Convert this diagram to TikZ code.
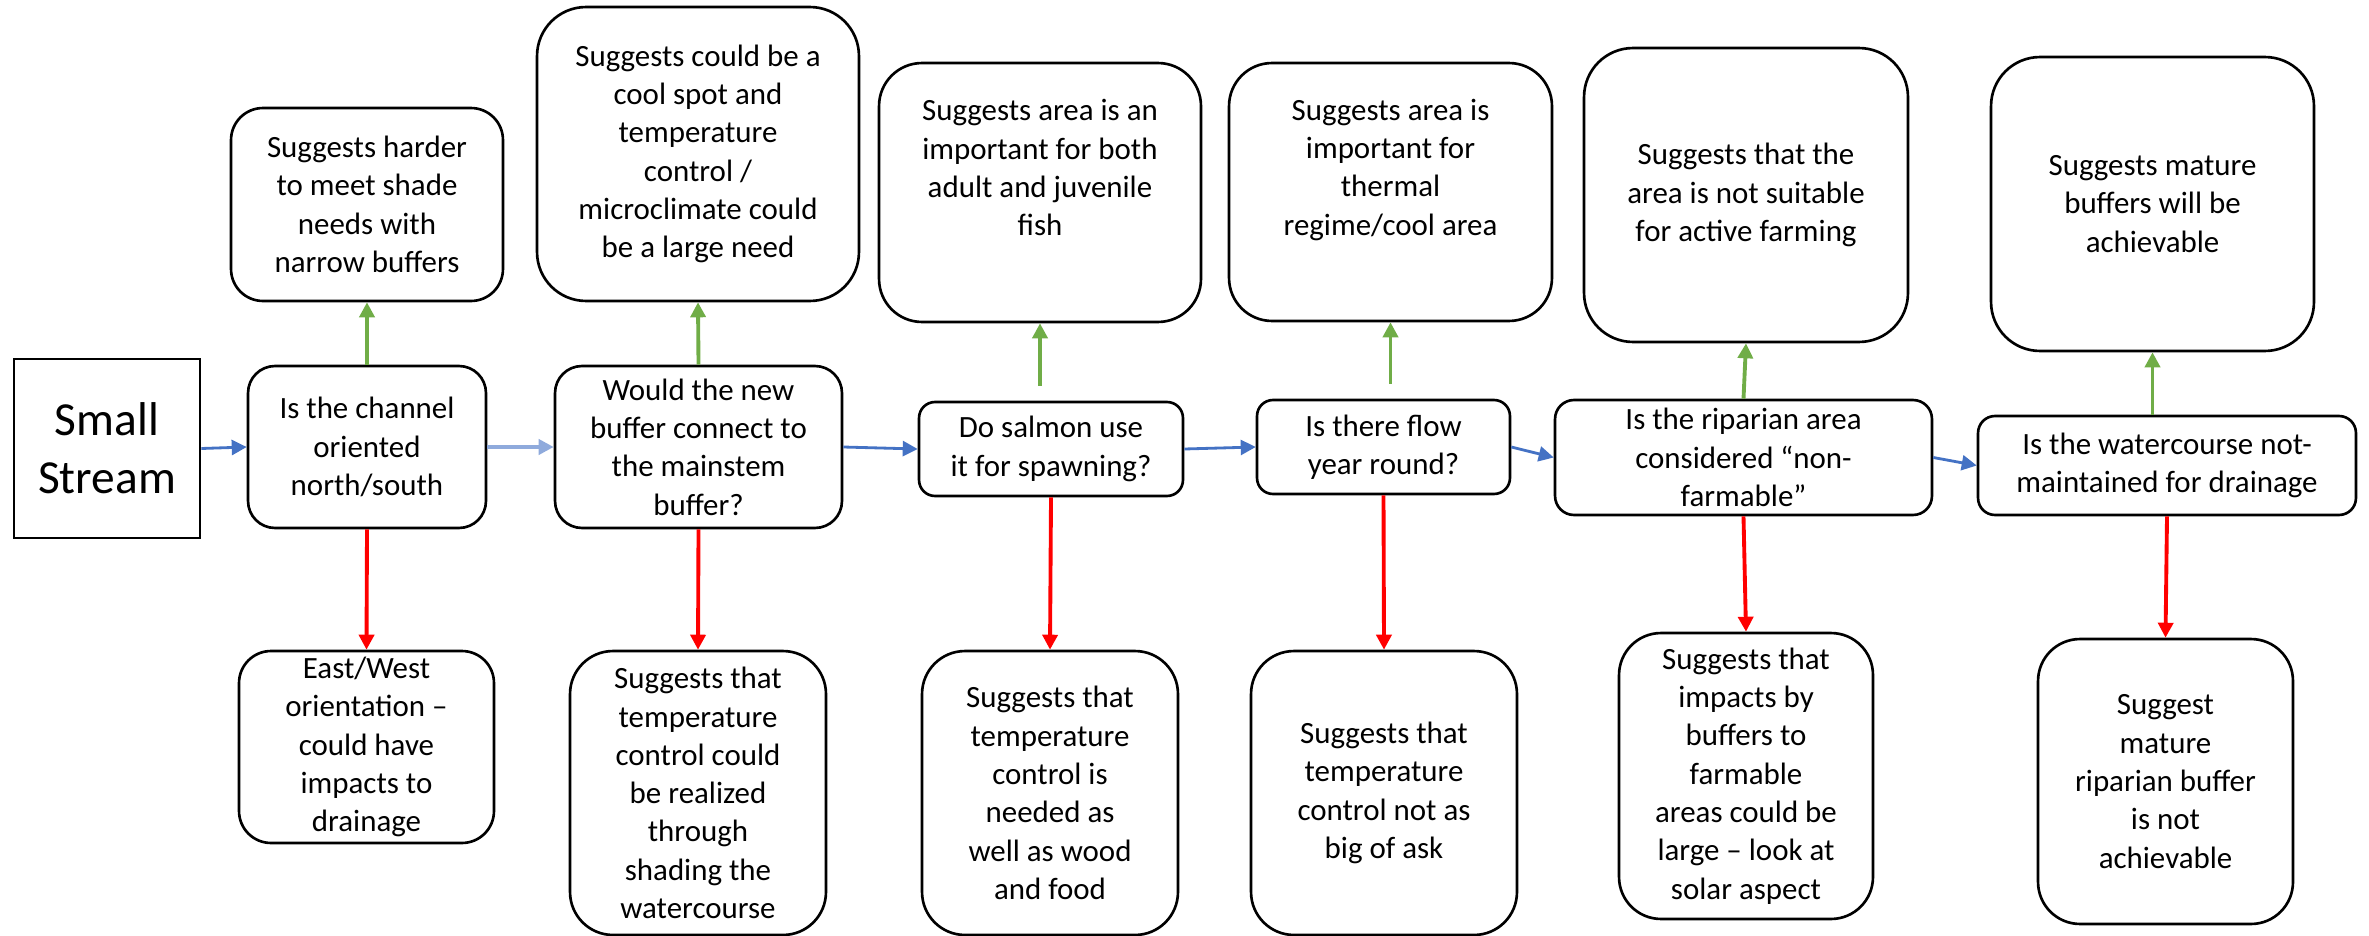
\documentclass[tikz,border=0pt]{standalone}
\usepackage{fontspec}
\setmainfont{Carlito}
\usepackage{tikz}
\usetikzlibrary{arrows.meta}
\definecolor{flowblue}{HTML}{4472C4}
\definecolor{lightblue}{HTML}{8FAADC}
\definecolor{yesgreen}{HTML}{70AD47}
\tikzstyle{box}=[
	draw=black,
	line width=1.5pt,
	align=center,
	inner sep=1mm,
	font=\fontsize{17.6}{21.8}\selectfont
]
\tikzstyle{start}=[
	box,
	font=\fontsize{27}{33}\selectfont
]
\tikzstyle{question}=[
	box
]
\tikzstyle{outcome}=[
	box
]
\tikzstyle{flow}=[
	-{Triangle[length=0.3cm,width=0.3cm]},
	line width=1.6pt,
	draw=flowblue
]
\tikzstyle{yesedge}=[
	-{Triangle[length=0.3cm,width=0.3cm]},
	line width=2.2pt,
	draw=yesgreen
]
\tikzstyle{noedge}=[
	-{Triangle[length=0.3cm,width=0.3cm]},
	line width=2.2pt,
	draw=red
]

\begin{document}
\begin{tikzpicture}[x=0.02cm,y=-0.02cm]
\useasboundingbox (0,0) rectangle (2369,936);

\node[start, minimum width=3.72cm, minimum height=3.58cm] (start) at (107,448.5) {Small\\Stream};

\node[question, rounded corners=0.54cm, minimum width=4.76cm, minimum height=3.24cm] (q1) at (367,447) {Is the channel\\oriented\\north/south};
\node[question, rounded corners=0.54cm, minimum width=5.74cm, minimum height=3.24cm] (q2) at (698.5,447) {Would the new\\buffer connect to\\the mainstem\\buffer?};
\node[question, rounded corners=0.32cm, minimum width=5.28cm, minimum height=1.88cm] (q3) at (1051,449) {Do salmon use\\it for spawning?};
\node[question, rounded corners=0.32cm, minimum width=5.06cm, minimum height=1.88cm] (q4) at (1383.5,447) {Is there flow\\year round?};
\node[question, rounded corners=0.38cm, minimum width=7.54cm, minimum height=2.30cm] (q5) at (1743.5,457.5) {Is the riparian area\\considered “non-\\farmable”};
\node[question, rounded corners=0.34cm, minimum width=7.56cm, minimum height=1.98cm] (q6) at (2167,465.5) {Is the watercourse not-\\maintained for drainage};

\node[outcome, rounded corners=0.64cm, minimum width=5.44cm, minimum height=3.86cm] (y1) at (367,204.5) {Suggests harder\\to meet shade\\needs with\\narrow buffers};
\node[outcome, rounded corners=0.98cm, minimum width=6.44cm, minimum height=5.88cm] (y2) at (698,154) {Suggests could be a\\cool spot and\\temperature\\control /\\microclimate could\\be a large need};
\node[outcome, rounded corners=0.86cm, minimum width=6.44cm, minimum height=5.18cm] (y3) at (1040,192.5) {Suggests area is an\\important for both\\adult and juvenile\\fish\\\strut};
\node[outcome, rounded corners=0.86cm, minimum width=6.46cm, minimum height=5.16cm] (y4) at (1390.5,192) {Suggests area is\\important for\\thermal\\regime/cool area\\\strut};
\node[outcome, rounded corners=0.98cm, minimum width=6.48cm, minimum height=5.88cm] (y5) at (1746,195) {Suggests that the\\area is not suitable\\for active farming};
\node[outcome, rounded corners=0.98cm, minimum width=6.46cm, minimum height=5.88cm] (y6) at (2152.5,204) {Suggests mature\\buffers will be\\achievable};

\node[outcome, rounded corners=0.64cm, minimum width=5.10cm, minimum height=3.84cm] (n1) at (366.5,747) {East/West\\orientation –\\could have\\impacts to\\drainage};
\node[outcome, rounded corners=0.86cm, minimum width=5.12cm, minimum height=5.68cm] (n2) at (698,793) {Suggests that\\temperature\\control could\\be realized\\through\\shading the\\watercourse};
\node[outcome, rounded corners=0.86cm, minimum width=5.12cm, minimum height=5.68cm] (n3) at (1050,793) {Suggests that\\temperature\\control is\\needed as\\well as wood\\and food};
\node[outcome, rounded corners=0.86cm, minimum width=5.32cm, minimum height=5.68cm] (n4) at (1384,793) {Suggests that\\temperature\\control not as\\big of ask};
\node[outcome, rounded corners=0.84cm, minimum width=5.08cm, minimum height=5.72cm] (n5) at (1746,776) {Suggests that\\impacts by\\buffers to\\farmable\\areas could be\\large – look at\\solar aspect};
\node[outcome, rounded corners=0.84cm, minimum width=5.10cm, minimum height=5.70cm] (n6) at (2165.5,781.5) {Suggest\\mature\\riparian buffer\\is not\\achievable};

% main line
\draw[flow] (start.east) -- (q1.west);
\draw[flow, draw=lightblue, line width=2.8pt] (q1.east) -- (q2.west);
\draw[flow] (q2.east) -- (q3.west);
\draw[flow] (q3.east) -- (q4.west);
\draw[flow] (q4.east) -- (q5.west);
\draw[flow] (q5.east) -- (q6.west);

% yes
\draw[yesedge] (q1.north) -- (y1.south);
\draw[yesedge] (q2.north) -- (y2.south);
\draw[yesedge] ([yshift=0.3cm]q3.north -| y3.south) -- (y3.south);
\draw[yesedge] ([yshift=0.3cm]q4.north -| y4.south) -- (y4.south);
\draw[yesedge] (q5.north) -- (y5.south);
\draw[yesedge] (q6.north -| y6.south) -- (y6.south);

% no
\draw[noedge] (q1.south) -- (n1.north);
\draw[noedge] (q2.south) -- (n2.north);
\draw[noedge] (q3.south) -- (n3.north);
\draw[noedge] (q4.south) -- (n4.north);
\draw[noedge] (q5.south) -- (n5.north);
\draw[noedge] (q6.south) -- (n6.north);
\end{tikzpicture}
\end{document}
